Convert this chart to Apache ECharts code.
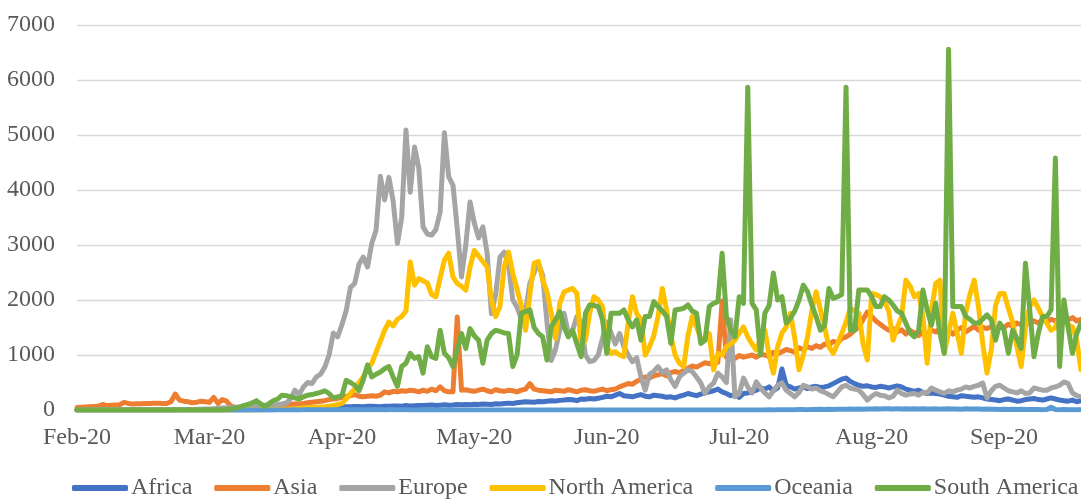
<!DOCTYPE html>
<html>
<head>
<meta charset="utf-8">
<script src="https://cdn.jsdelivr.net/npm/echarts@6/dist/echarts.min.js"></script>
<style>
  html, body { margin: 0; padding: 0; background: #ffffff; }
  #chart { width: 1081px; height: 500px; }
</style>
</head>
<body>
<div id="chart"></div>
<script>
// Daily deaths by continent, one value per day starting 1 Feb 2020
const startDate = '2020-02-01';
const dayCount = 236;
const monthNames = ['Jan', 'Feb', 'Mar', 'Apr', 'May', 'Jun', 'Jul', 'Aug', 'Sep', 'Oct', 'Nov', 'Dec'];
const seriesNames = ['Africa', 'Asia', 'Europe', 'North America', 'Oceania', 'South America'];
const seriesColors = ['#4472C4', '#ED7D31', '#A5A5A5', '#FFC000', '#5B9BD5', '#70AD47'];

const africa = [
  0,0,0,0,0,0,0,0,0,0,
  0,0,0,0,0,0,0,0,0,0,
  0,0,0,0,0,0,0,0,0,0,
  0,0,0,0,0,0,0,0,0,0,
  1,1,2,3,4,5,6,8,10,12,
  15,18,20,22,25,28,30,35,40,45,
  50,55,55,60,58,62,65,60,68,70,
  65,60,70,68,72,75,70,80,75,78,
  82,80,85,90,80,88,95,85,90,100,
  95,100,95,105,100,110,105,100,115,110,
  120,125,120,130,140,150,145,140,155,150,
  160,170,165,175,180,190,185,170,200,195,
  210,200,215,230,250,240,270,300,260,250,
  240,260,280,250,240,270,260,250,230,240,
  220,250,270,300,280,260,290,310,330,350,
  380,330,300,260,280,230,300,310,330,360,
  400,380,420,350,400,745,450,420,380,400,
  420,390,420,430,410,420,440,480,520,560,
  580,520,480,450,430,440,420,410,430,420,
  400,420,440,420,380,360,340,360,320,300,
  310,300,290,270,250,240,230,260,250,240,
  230,240,220,200,190,180,170,190,200,180,
  160,170,190,200,210,190,180,200,220,200,
  180,170,160,180,150,170
];

const asia = [
  45,50,55,60,65,70,100,80,85,90,
  95,140,120,110,112,115,118,120,122,125,
  120,118,150,290,180,160,150,130,140,160,
  150,140,230,120,190,160,70,50,40,35,
  30,30,35,40,45,50,60,70,80,90,
  100,110,115,120,130,140,150,160,170,190,
  200,210,230,250,260,280,250,240,250,260,
  250,270,330,310,340,330,350,340,360,350,
  330,360,340,380,350,420,350,330,330,1690,
  360,370,350,340,360,380,350,330,370,350,
  340,360,350,330,360,380,480,380,360,350,
  340,330,360,350,340,370,350,330,360,370,
  350,340,360,380,350,370,380,420,450,480,
  470,520,560,600,580,620,640,660,620,680,
  700,680,720,760,800,780,820,860,840,880,
  870,1980,960,980,940,990,960,980,1000,960,
  1010,1000,970,1050,1020,1060,1100,1080,1050,1130,
  1100,1150,1120,1170,1140,1200,1180,1250,1220,1300,
  1330,1380,1450,1500,1650,1780,1700,1620,1560,1500,
  1450,1480,1420,1460,1380,1450,1400,1350,1420,1380,
  1450,1420,1480,1400,1460,1380,1450,1500,1420,1470,
  1520,1450,1500,1480,1520,1460,1550,1500,1560,1520,
  1580,1550,1600,1570,1620,1580,1640,1600,1650,1620,
  1660,1600,1640,1680,1620,1650
];

const europe = [
  0,0,0,0,0,0,0,0,0,0,
  0,0,0,0,0,0,0,0,0,0,
  0,1,1,2,3,5,7,10,12,15,
  18,20,25,30,35,40,45,50,55,60,
  65,70,75,80,85,90,95,100,110,130,
  200,360,280,420,500,480,600,650,780,1000,
  1400,1330,1550,1800,2230,2300,2650,2780,2600,3030,
  3270,4250,3820,4230,3800,3030,3500,5090,3960,4780,
  4400,3330,3200,3180,3280,3600,5040,4240,4090,3300,
  2420,3000,3780,3400,3130,3330,2850,1750,2100,2780,
  2870,2650,2000,1870,1650,1800,2300,2500,2670,2450,
  1600,900,1100,1450,1760,1390,1450,1700,1600,1000,
  880,900,1000,1300,1600,1400,1200,1390,1150,1000,
  880,950,600,360,650,700,790,680,730,550,
  430,600,670,730,700,600,490,300,420,490,
  670,600,500,1640,240,300,580,420,310,510,
  400,310,240,350,450,490,360,300,240,320,
  450,420,380,400,350,320,280,240,330,420,
  450,400,380,360,280,180,250,300,270,260,
  220,250,360,300,270,290,300,270,320,310,
  400,360,330,300,350,330,360,380,420,400,
  430,450,490,220,350,430,450,400,350,330,
  310,350,300,310,400,380,360,360,400,420,
  450,510,480,310,260,240
];

const northAmerica = [
  0,0,0,0,0,0,0,0,0,0,
  0,0,0,0,0,0,0,0,0,0,
  0,0,0,0,0,0,0,0,0,0,
  0,0,0,1,1,2,2,3,4,5,
  2,3,4,5,6,8,10,12,15,18,
  20,25,30,35,40,45,50,55,60,70,
  80,100,120,200,300,380,500,600,750,850,
  1050,1250,1450,1600,1530,1650,1700,1800,2690,2270,
  2390,2350,2310,2100,2060,2400,2730,2850,2420,2300,
  2250,2180,2600,2900,2800,2700,2600,2000,1700,1880,
  2600,2870,2490,2200,1900,1450,2100,2670,2700,2360,
  2150,1760,1300,1940,2150,2180,2210,2120,1150,1270,
  1760,2060,2000,1880,1150,1030,1060,1000,970,1580,
  2060,1750,1650,1000,1150,1350,1700,2210,1820,1350,
  1000,850,790,1350,1700,1510,1300,1270,1390,730,
  1030,1000,1150,1200,1270,1400,1510,1330,1200,1090,
  1300,1450,1000,670,1150,1400,1510,1760,1300,730,
  1000,1330,1800,2150,1820,1500,1150,1030,1200,1390,
  1600,1850,1800,1760,1200,910,2120,2100,2060,1970,
  1800,1270,1500,1700,2360,2250,2060,2120,1700,850,
  1820,2300,2360,1030,1400,1760,1400,1030,1760,2100,
  2360,1880,1210,670,1100,1900,2120,2120,1850,1600,
  1150,790,1500,1880,2000,1850,1700,1580,1450,1500,
  1700,1650,1550,1510,1270,730
];

const oceania = [
  0,0,0,0,0,0,0,0,0,0,
  0,0,0,0,0,0,0,0,0,0,
  0,0,0,0,0,0,0,0,0,0,
  0,0,0,0,0,0,0,0,0,0,
  0,0,0,0,0,1,0,1,2,1,
  2,3,2,4,3,5,4,6,5,4,
  5,6,4,7,5,6,3,5,4,6,
  3,4,2,5,3,2,4,3,2,1,
  2,3,1,2,1,0,2,1,0,1,
  1,0,2,0,1,0,1,0,0,1,
  0,1,0,0,1,0,0,1,0,0,
  1,0,0,0,1,0,0,0,1,0,
  0,0,1,0,0,0,0,1,0,0,
  0,1,0,0,0,1,0,0,0,1,
  0,0,1,0,0,0,1,0,0,1,
  0,1,0,1,2,1,0,2,1,1,
  1,2,3,2,4,5,3,6,5,7,
  8,6,10,9,12,8,14,11,13,15,
  12,16,14,18,15,20,17,22,19,24,
  21,18,25,20,23,19,22,17,24,20,
  18,21,16,19,23,17,20,15,22,18,
  16,19,14,17,12,15,11,14,10,13,
  9,12,8,11,7,10,6,9,50,8,
  4,7,5,3,6,4
];

const southAmerica = [
  0,0,0,0,0,0,0,0,0,0,
  0,0,0,0,0,0,0,0,0,0,
  0,0,0,0,0,0,0,0,0,0,
  0,0,0,0,0,10,20,30,50,80,
  100,130,170,110,60,120,170,200,270,260,
  240,220,200,240,270,280,300,320,350,300,
  220,240,260,540,500,450,350,550,820,600,
  650,690,750,790,600,430,790,850,1030,940,
  970,670,1150,970,940,1450,1030,950,790,1100,
  1390,1120,1480,1350,1270,850,1270,1390,1450,1430,
  1400,1390,790,1000,1760,1790,1820,1500,1390,1330,
  910,1510,1640,1790,1510,1330,1450,1200,970,1760,
  1910,1900,1880,1640,1030,1760,1760,1760,1820,1640,
  1510,1640,1270,1700,1700,1970,1880,1800,1700,1210,
  1820,1830,1850,1910,1800,1760,1210,1270,1880,1940,
  1970,2850,1700,1450,1330,2060,1940,5870,1940,1820,
  1000,1760,1900,2490,2000,2060,1580,1670,1800,2000,
  2270,2150,1910,1700,1450,1540,2210,2030,2060,2100,
  5870,1450,1450,2180,2180,2180,2060,1880,1880,2060,
  2000,1910,1800,1760,1580,1400,1330,1450,2180,1820,
  1540,1940,1390,1030,6560,1880,1880,1880,1700,1650,
  1580,1580,1650,1730,1640,1270,1580,1450,1030,1450,
  1300,1120,2670,1820,970,1390,1700,1700,1820,4580,
  790,2000,1500,1030,1390,1580
];

const seriesValues = [africa, asia, europe, northAmerica, oceania, southAmerica];

// Category axis: one entry per day
const days = [];
const t0 = new Date(startDate + 'T00:00:00Z').getTime();
for (let i = 0; i < dayCount; i++) {
  days.push(new Date(t0 + i * 86400000).toISOString().slice(0, 10));
}

const font = '"Liberation Serif", "Times New Roman", serif';
const textColor = '#595959';

const chart = echarts.init(document.getElementById('chart'), null, { renderer: 'canvas' });
chart.setOption({
  animation: false,
  backgroundColor: '#ffffff',
  color: seriesColors,
  grid: { left: 77, right: 0, top: 25, bottom: 90, containLabel: false },
  legend: {
    left: 72,
    top: 476,
    width: 1060,
    padding: 0,
    itemWidth: 56,
    itemHeight: 6,
    itemGap: 22,
    icon: 'roundRect',
    textStyle: { fontFamily: font, fontSize: 24, color: textColor, padding: [0, 0, 0, -2] },
    data: seriesNames
  },
  xAxis: {
    type: 'category',
    data: days,
    boundaryGap: false,
    axisLine: { show: false },
    axisTick: { show: false },
    axisLabel: {
      interval: 30,
      margin: 16,
      fontFamily: font,
      fontSize: 24,
      color: textColor,
      formatter: function (v) {
        const m = parseInt(v.slice(5, 7), 10);
        return monthNames[m - 1] + '-' + v.slice(2, 4);
      }
    },
    splitLine: { show: false }
  },
  yAxis: {
    type: 'value',
    min: 0,
    max: 7000,
    interval: 1000,
    axisLine: { show: false },
    axisTick: { show: false },
    axisLabel: {
      margin: 22, fontFamily: font, fontSize: 24, color: textColor,
      formatter: function (v) { return String(v); }
    },
    splitLine: { lineStyle: { color: '#D9D9D9', width: 1.3 } }
  },
  series: seriesNames.map(function (name, i) {
    return {
      name: name,
      type: 'line',
      data: seriesValues[i],
      showSymbol: false,
      symbol: 'none',
      lineStyle: { width: 5, color: seriesColors[i], cap: 'round', join: 'round' },
      itemStyle: { color: seriesColors[i] }
    };
  })
});
</script>
</body>
</html>
